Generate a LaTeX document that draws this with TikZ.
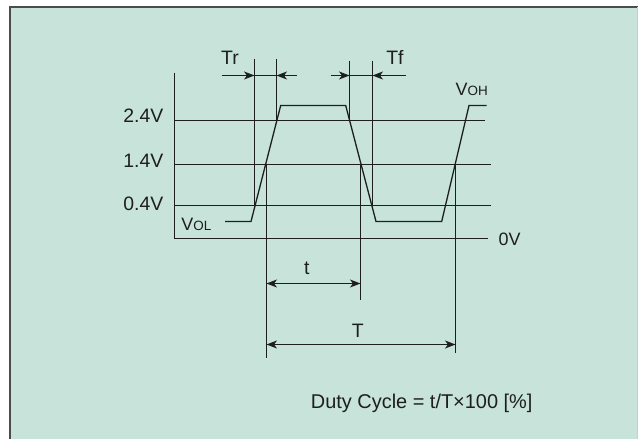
\documentclass[tikz,border=0pt]{standalone}
\usepackage{fontspec}
\setmainfont{Liberation Sans}
\usetikzlibrary{arrows.meta}
\definecolor{panelgreen}{RGB}{199,227,218}
\definecolor{inkgray}{RGB}{30,30,30}
\tikzstyle{wire} = [draw=inkgray, line width=1.3bp]
\tikzstyle{tip} = [wire, -{Stealth[length=10.5bp,width=8bp,inset=3bp]}]
\tikzstyle{dimarrow} = [wire, {Stealth[length=10.5bp,width=8bp,inset=3bp]}-{Stealth[length=10.5bp,width=8bp,inset=3bp]}]
\tikzstyle{txt} = [inner sep=0pt, text=inkgray, font=\fontsize{19.5}{21}\selectfont]
\newcommand{\volt}[2]{{\fontsize{18}{18}\selectfont #1}{\fontsize{13.5}{13.5}\selectfont #2}}

\begin{document}
\begin{tikzpicture}[x=1bp, y=-1bp]
    \useasboundingbox (0,0) rectangle (638,439);
    % panel
    \fill[panelgreen] (10,7) rectangle (638,439);
    \draw[gray!60!black, line width=1.4bp] (10,439) -- (10,7) -- (638,7);
    \draw[gray!40, line width=0.8bp] (637.4,7) -- (637.4,439);

    % levels
    \coordinate (l0) at (174.5,238.5);
    \coordinate (l04) at (174.5,205.5);
    \coordinate (l14) at (174.5,164.5);
    \coordinate (l24) at (174.5,120.5);
    \draw[wire] (174.5,73) -- (l0) -- (488,238.5);
    \draw[wire] (l04) -- (490.7,205.5);
    \draw[wire] (l14) -- (490.7,164.5);
    \draw[wire] (l24) -- (485,120.5);
    \node[txt, anchor=base east] (v24) at (163.5,122.3) {2.4V};
    \node[txt, anchor=base east] (v14) at (163.5,167.7) {1.4V};
    \node[txt, anchor=base east] (v04) at (163.5,211) {0.4V};
    \node[txt, anchor=base west] (v0) at (498.5,245.7) {\fontsize{18}{18}\selectfont 0V};

    % waveform
    \coordinate (w0) at (225,221.5);
    \coordinate (w1) at (251,221.5);
    \coordinate (w2) at (280.7,105.5);
    \coordinate (w3) at (345.7,105.5);
    \coordinate (w4) at (376,221.5);
    \coordinate (w5) at (441.7,221.5);
    \coordinate (w6) at (469,105.5);
    \coordinate (w7) at (486.7,105.5);
    \draw[wire] (w0) -- (w1) -- (w2) -- (w3) -- (w4) -- (w5) -- (w6) -- (w7);
    \node[txt, anchor=base west] (vol) at (181.2,230.7) {\volt{V}{OL}};
    \node[txt, anchor=base west] (voh) at (455.5,96) {\volt{V}{OH}};

    % rise and fall times
    \coordinate (tr1) at (254.5,59);
    \coordinate (tr2) at (276.5,59);
    \coordinate (tf1) at (349.5,61);
    \coordinate (tf2) at (372.5,61);
    \draw[wire] (tr1) -- (tr1 |- l04);
    \draw[wire] (tr2) -- (tr2 |- l24);
    \draw[wire] (tf1) -- (tf1 |- l24);
    \draw[wire] (tf2) -- (tf2 |- l04);
    \draw[tip] (221.7,75.5) -- (tr1 |- 0,75.5);
    \draw[wire] (tr1 |- 0,75.5) -- (tr2 |- 0,75.5);
    \draw[tip] (296.7,75.5) -- (tr2 |- 0,75.5);
    \draw[tip] (330.7,75.5) -- (tf1 |- 0,75.5);
    \draw[wire] (tf1 |- 0,75.5) -- (tf2 |- 0,75.5);
    \draw[tip] (406,75.5) -- (tf2 |- 0,75.5);
    \node[txt, anchor=base] (tr) at (230,65) {Tr};
    \node[txt, anchor=base] (tf) at (395,65) {Tf};

    % pulse width and period
    \coordinate (ts) at (266.5,164.5);
    \coordinate (te) at (360.5,164.5);
    \coordinate (pe) at (455.5,164.5);
    \draw[wire] (ts) -- (266.5,358.3);
    \draw[wire] (te) -- (360.5,300);
    \draw[wire] (pe) -- (455.5,353.3);
    \draw[dimarrow] (ts |- 0,283.5) -- (te |- 0,283.5);
    \draw[dimarrow] (ts |- 0,344.5) -- (pe |- 0,344.5);
    \node[txt, anchor=base] (tw) at (306.7,275) {t};
    \node[txt, anchor=base] (tp) at (357.7,337.3) {T};

    \node[txt, anchor=base, font=\fontsize{20}{22}\selectfont] (duty) at (421.7,408.3) {Duty Cycle = t/T×100 [\%]};
\end{tikzpicture}
\end{document}
